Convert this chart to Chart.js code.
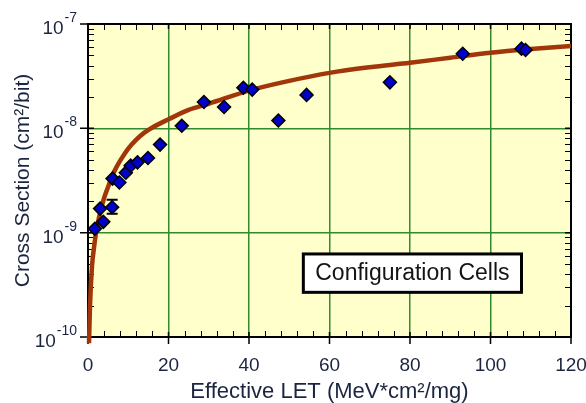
<!DOCTYPE html>
<html>
<head>
<meta charset="utf-8">
<script src="https://cdn.jsdelivr.net/npm/chart.js@4.4.1/dist/chart.umd.min.js"></script>
<style>
  html, body { margin: 0; padding: 0; background: #fff; }
  #chart { display: block; }
</style>
</head>
<body>
<canvas id="chart" width="586" height="403"></canvas>
<script>
// measured points (Effective LET, cross section)
const letValues = [1.7, 3.8, 3.0, 6.0, 6.1, 7.8, 9.4, 10.6, 12.3, 14.9, 17.9, 23.3, 28.8, 33.8, 38.6, 40.8, 47.3, 54.3, 75.0, 93.1, 107.7, 108.7];
const crossValues = [1.09e-9, 1.27e-9, 1.70e-9, 1.75e-9, 3.3e-9, 3.03e-9, 3.76e-9, 4.39e-9, 4.72e-9, 5.2e-9, 6.98e-9, 1.06e-8, 1.79e-8, 1.60e-8, 2.45e-8, 2.35e-8, 1.19e-8, 2.09e-8, 2.76e-8, 5.19e-8, 5.8e-8, 5.63e-8];

// error bar on one point
const errLet = [6.0];
const errLow = [1.52e-9];
const errHigh = [2.07e-9];

// fitted curve
const fitLet = [0.25, 0.5, 1, 1.5, 2, 3, 4, 5, 6, 7, 8, 10, 12, 14, 16, 20, 25, 30, 40, 50, 60, 70, 80, 90, 100, 110, 120];
const fitCross = [8.7e-11, 2.0e-10, 4.8e-10, 7.2e-10, 1.0e-9, 1.55e-9, 2.15e-9, 2.75e-9, 3.5e-9, 4.2e-9, 4.9e-9, 6.4e-9, 7.8e-9, 9.1e-9, 1.02e-8, 1.22e-8, 1.5e-8, 1.72e-8, 2.3e-8, 2.85e-8, 3.4e-8, 3.85e-8, 4.25e-8, 4.75e-8, 5.3e-8, 5.75e-8, 6.15e-8];

const xTicks = [0, 20, 40, 60, 80, 100, 120];
const yExponents = [-10, -9, -8, -7];
const boxLabel = "Configuration Cells";

const FONT = '"Liberation Sans", Arial, sans-serif';
const TEXT = '#1c2540';
const GRID = '#2e8b2e';

const framePlugin = {
  id: 'frame',
  beforeDraw(chart) {
    const { ctx, chartArea: a } = chart;
    ctx.save();
    ctx.fillStyle = '#ffffcc';
    ctx.fillRect(a.left, a.top, a.right - a.left, a.bottom - a.top);
    ctx.restore();
  },
  beforeDatasetsDraw(chart) {
    const { ctx, chartArea: a, scales: { x, y } } = chart;
    ctx.save();
    ctx.strokeStyle = '#000';

    // minor ticks, inside the box
    ctx.lineWidth = 1;
    ctx.beginPath();
    for (let v = 4; v < 120; v += 4) {
      if (v % 20 === 0) continue;
      const px = Math.round(x.getPixelForValue(v)) + 0.5;
      ctx.moveTo(px, a.bottom); ctx.lineTo(px, a.bottom - 6);
      ctx.moveTo(px, a.top); ctx.lineTo(px, a.top + 6);
    }
    for (let i = 0; i < yExponents.length - 1; i++) {
      for (let m = 2; m <= 9; m++) {
        const py = Math.round(y.getPixelForValue(m * Math.pow(10, yExponents[i]))) + 0.5;
        ctx.moveTo(a.left, py); ctx.lineTo(a.left + 6, py);
        ctx.moveTo(a.right, py); ctx.lineTo(a.right - 6, py);
      }
    }
    ctx.stroke();

    // major ticks
    ctx.lineWidth = 1.5;
    ctx.beginPath();
    xTicks.forEach(v => {
      const px = x.getPixelForValue(v);
      ctx.moveTo(px, a.bottom + 7); ctx.lineTo(px, a.bottom - 5);
      ctx.moveTo(px, a.top); ctx.lineTo(px, a.top + 5);
    });
    yExponents.forEach(e => {
      const py = y.getPixelForValue(Math.pow(10, e));
      ctx.moveTo(a.left - 8, py); ctx.lineTo(a.left + 6, py);
      ctx.moveTo(a.right, py); ctx.lineTo(a.right - 6, py);
    });
    ctx.stroke();

    // frame
    ctx.lineWidth = 2;
    ctx.strokeRect(a.left, a.top, a.right - a.left, a.bottom - a.top);

    // error bars
    ctx.lineWidth = 2;
    errLet.forEach((v, i) => {
      const px = x.getPixelForValue(v);
      const pLo = y.getPixelForValue(errLow[i]);
      const pHi = y.getPixelForValue(errHigh[i]);
      ctx.beginPath();
      ctx.moveTo(px, pLo); ctx.lineTo(px, pHi);
      ctx.moveTo(px - 5.5, pLo); ctx.lineTo(px + 5.5, pLo);
      ctx.moveTo(px - 5.5, pHi); ctx.lineTo(px + 5.5, pHi);
      ctx.stroke();
    });

    // y tick labels as 10 with superscript exponent
    ctx.fillStyle = TEXT;
    ctx.textAlign = 'right';
    ctx.textBaseline = 'alphabetic';
    const rx = 77;
    yExponents.forEach(e => {
      const py = y.getPixelForValue(Math.pow(10, e));
      const sup = String(e);
      ctx.font = '14px ' + FONT;
      const w = ctx.measureText(sup).width;
      ctx.fillText(sup, rx, py - 2);
      ctx.font = '19px ' + FONT;
      ctx.fillText('10', rx - w - 1, py + 10);
    });
    ctx.restore();
  },
  afterDraw(chart) {
    const { ctx, scales: { x, y } } = chart;
    const l = x.getPixelForValue(53.5), r = x.getPixelForValue(107.7);
    const t = y.getPixelForValue(6.25e-10), b = y.getPixelForValue(2.68e-10);
    ctx.save();
    ctx.fillStyle = '#fff';
    ctx.fillRect(l, t, r - l, b - t);
    ctx.strokeStyle = '#000';
    ctx.lineWidth = 3;
    ctx.strokeRect(l, t, r - l, b - t);
    ctx.fillStyle = '#141414';
    ctx.font = '23px ' + FONT;
    ctx.textAlign = 'center';
    ctx.textBaseline = 'middle';
    ctx.fillText(boxLabel, (l + r) / 2, (t + b) / 2 + 1);
    ctx.restore();
  }
};

const points = letValues.map((v, i) => ({ x: v, y: crossValues[i] }));
const fit = fitLet.map((v, i) => ({ x: v, y: fitCross[i] }));

new Chart(document.getElementById('chart'), {
  type: 'scatter',
  data: {
    datasets: [
      {
        type: 'line',
        data: fit,
        borderColor: '#a0360a',
        borderWidth: 4.5,
        pointRadius: 0,
        cubicInterpolationMode: 'monotone',
        clip: false,
        order: 2
      },
      {
        data: points,
        pointStyle: 'rectRot',
        pointRadius: 6.5,
        backgroundColor: '#0000c8',
        borderColor: '#000',
        borderWidth: 1.5,
        order: 1
      }
    ]
  },
  options: {
    responsive: false,
    animation: false,
    devicePixelRatio: 1,
    layout: { padding: { top: 24, right: 15, left: 0, bottom: 0 } },
    plugins: { legend: { display: false }, tooltip: { enabled: false } },
    scales: {
      x: {
        type: 'linear',
        min: 0,
        max: 120,
        afterBuildTicks: s => { s.ticks = xTicks.map(v => ({ value: v })); },
        afterFit: s => { s.height = 66; s.paddingLeft = 0; s.paddingRight = 0; },
        grid: {
          color: c => (c.index > 0 && c.index < xTicks.length - 1) ? GRID : 'rgba(0,0,0,0)',
          lineWidth: 1.5,
          drawTicks: false
        },
        border: { display: false },
        ticks: { font: { family: FONT, size: 19 }, color: TEXT, padding: 17, maxRotation: 0, autoSkip: false },
        title: {
          display: true,
          text: 'Effective LET (MeV*cm²/mg)',
          color: TEXT,
          font: { family: FONT, size: 22, lineHeight: 1 },
          padding: { top: 0, bottom: 0 }
        }
      },
      y: {
        type: 'logarithmic',
        min: 1e-10,
        max: 1e-7,
        afterBuildTicks: s => { s.ticks = yExponents.map(e => ({ value: Math.pow(10, e) })); },
        afterFit: s => { s.width = 88; s.paddingTop = 0; s.paddingBottom = 0; },
        grid: {
          color: c => (c.index > 0 && c.index < yExponents.length - 1) ? GRID : 'rgba(0,0,0,0)',
          lineWidth: 1.5,
          drawTicks: false
        },
        border: { display: false },
        ticks: { display: false },
        title: {
          display: true,
          text: 'Cross Section (cm²/bit)',
          color: TEXT,
          font: { family: FONT, size: 21, lineHeight: 1 },
          padding: { top: 13, bottom: 0 }
        }
      }
    }
  },
  plugins: [framePlugin]
});
</script>
</body>
</html>
